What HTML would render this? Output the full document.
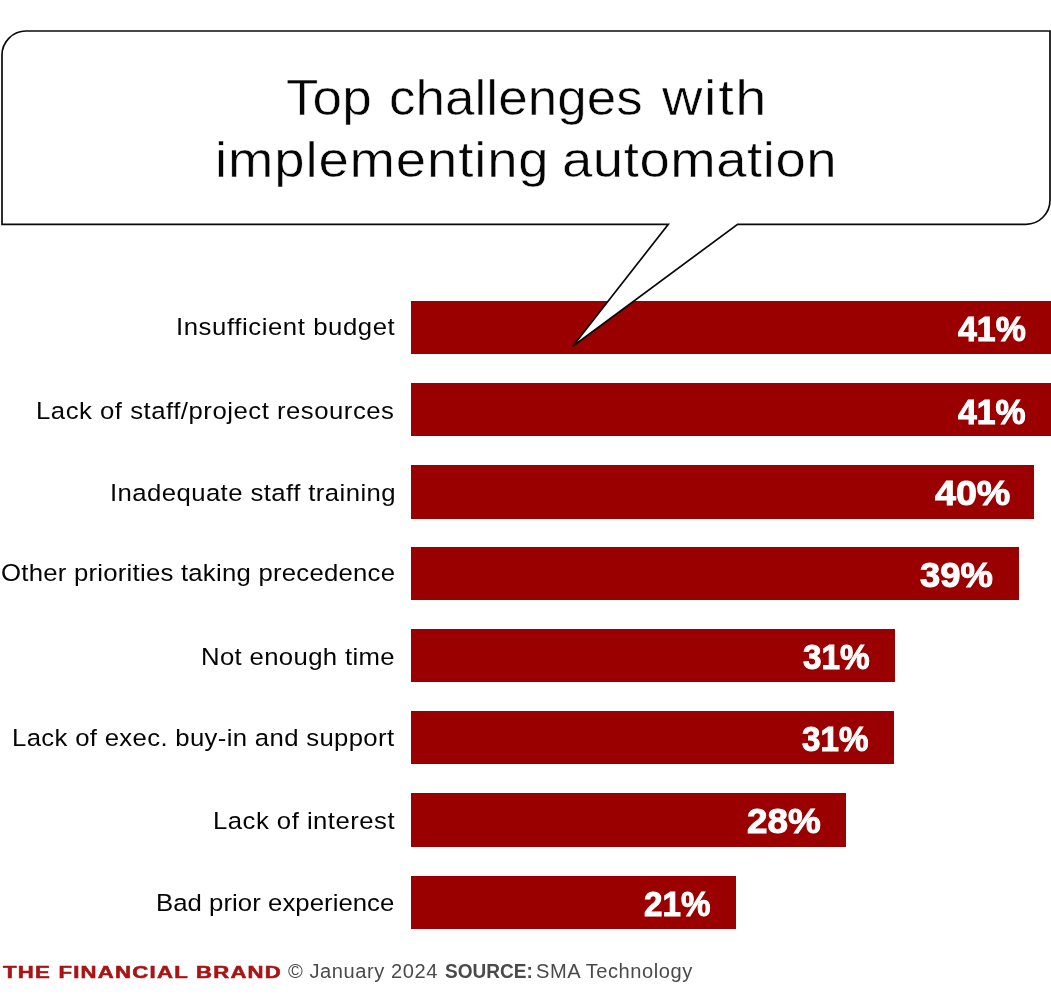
<!DOCTYPE html>
<html lang="en">
<head>
<meta charset="utf-8">
<title>Top challenges with implementing automation</title>
<style>
html,body{margin:0;padding:0;background:#fff;}
body{width:1051px;height:1000px;position:relative;overflow:hidden;font-family:"Liberation Sans",Arial,sans-serif;color:#050505;}
.bar{position:absolute;left:411.4px;background:#9a0000;}
h1{margin:0;font-weight:normal;font-size:inherit;}
.t{position:absolute;display:block;white-space:nowrap;transform-origin:0 0;}
#bubble{position:absolute;left:0;top:0;}
</style>
</head>
<body>

<div class="bar" id="bar0" style="top:301.2px;height:53.25px;width:639.6px"></div>
<div class="bar" id="bar1" style="top:383.35px;height:53.1px;width:639.6px"></div>
<div class="bar" id="bar2" style="top:464.9px;height:53.7px;width:622.9px"></div>
<div class="bar" id="bar3" style="top:547.2px;height:53px;width:607.4px"></div>
<div class="bar" id="bar4" style="top:629.25px;height:53.2px;width:483.8px"></div>
<div class="bar" id="bar5" style="top:711.25px;height:53.2px;width:482.6px"></div>
<div class="bar" id="bar6" style="top:793.45px;height:53.15px;width:434.4px"></div>
<div class="bar" id="bar7" style="top:875.55px;height:53.15px;width:324.6px"></div>

<svg id="bubble" width="1051" height="1000" viewBox="0 0 1051 1000">
  <path d="M26 31 H1050 V200.3 A24 24 0 0 1 1026 224.3 H737.6 L572.8 346.2 L668.3 224.3 H2 V55 A24 24 0 0 1 26 31 Z" fill="#fff" stroke="#0a0a0a" stroke-width="1.7" stroke-linejoin="miter" stroke-miterlimit="4"/>
</svg>

<h1>
<span class="t" id="t1a" style="left:285.64px;top:68px;font-size:50px;line-height:60px;transform:scaleX(1.0600);letter-spacing:0.092px;-webkit-text-stroke:0.5px #fff;">Top</span>
<span class="t" id="t1b" style="left:389.45px;top:68px;font-size:50px;line-height:60px;transform:scaleX(1.0600);letter-spacing:0.028px;-webkit-text-stroke:0.5px #fff;">challenges</span>
<span class="t" id="t1c" style="left:662.22px;top:68px;font-size:50px;line-height:60px;transform:scaleX(1.1200);letter-spacing:1.467px;-webkit-text-stroke:0.5px #fff;">with</span>
<span class="t" id="t2a" style="left:215.18px;top:130px;font-size:50px;line-height:60px;transform:scaleX(1.0900);letter-spacing:0.792px;-webkit-text-stroke:0.5px #fff;">implementing</span>
<span class="t" id="t2b" style="left:562.06px;top:130px;font-size:50px;line-height:60px;transform:scaleX(1.0900);letter-spacing:0.506px;-webkit-text-stroke:0.5px #fff;">automation</span>
</h1>

<div class="t" id="l0" style="left:175.66px;top:312.01px;font-size:24.5px;line-height:29px;transform:scaleX(1.0500);letter-spacing:0.548px;">Insufficient budget</div>
<div class="t" id="p0" style="left:957.51px;top:308.01px;font-size:35px;line-height:42px;transform:scaleX(0.9680);color:#fff;font-weight:bold;-webkit-text-stroke:1px #fff;">41%</div>
<div class="t" id="l1" style="left:36.41px;top:396.01px;font-size:24.5px;line-height:29px;transform:scaleX(1.0500);letter-spacing:0.485px;">Lack of staff/project resources</div>
<div class="t" id="p1" style="left:958.01px;top:391.01px;font-size:35px;line-height:42px;transform:scaleX(0.9658);color:#fff;font-weight:bold;-webkit-text-stroke:1px #fff;">41%</div>
<div class="t" id="l2" style="left:110.19px;top:478.01px;font-size:24.5px;line-height:29px;transform:scaleX(1.0500);letter-spacing:0.396px;">Inadequate staff training</div>
<div class="t" id="p2" style="left:935.33px;top:472.01px;font-size:35px;line-height:42px;transform:scaleX(1.0756);color:#fff;font-weight:bold;-webkit-text-stroke:1px #fff;">40%</div>
<div class="t" id="l3" style="left:0.94px;top:558.01px;font-size:24.5px;line-height:29px;transform:scaleX(1.0500);letter-spacing:0.229px;">Other priorities taking precedence</div>
<div class="t" id="p3" style="left:920.07px;top:554.01px;font-size:35px;line-height:42px;transform:scaleX(1.0388);color:#fff;font-weight:bold;-webkit-text-stroke:1px #fff;">39%</div>
<div class="t" id="l4" style="left:200.87px;top:642.01px;font-size:24.5px;line-height:29px;transform:scaleX(1.0500);letter-spacing:0.327px;">Not enough time</div>
<div class="t" id="p4" style="left:802.73px;top:636.01px;font-size:35px;line-height:42px;transform:scaleX(0.9513);color:#fff;font-weight:bold;-webkit-text-stroke:1px #fff;">31%</div>
<div class="t" id="l5" style="left:11.95px;top:723.01px;font-size:24.5px;line-height:29px;transform:scaleX(1.0500);letter-spacing:0.314px;">Lack of exec. buy-in and support</div>
<div class="t" id="p5" style="left:801.84px;top:718.01px;font-size:35px;line-height:42px;transform:scaleX(0.9472);color:#fff;font-weight:bold;-webkit-text-stroke:1px #fff;">31%</div>
<div class="t" id="l6" style="left:212.78px;top:806.01px;font-size:24.5px;line-height:29px;transform:scaleX(1.0500);letter-spacing:0.451px;">Lack of interest</div>
<div class="t" id="p6" style="left:746.7px;top:800.01px;font-size:35px;line-height:42px;transform:scaleX(1.0516);color:#fff;font-weight:bold;-webkit-text-stroke:1px #fff;">28%</div>
<div class="t" id="l7" style="left:155.92px;top:888.01px;font-size:24.5px;line-height:29px;transform:scaleX(1.0500);letter-spacing:0.048px;">Bad prior experience</div>
<div class="t" id="p7" style="left:643.67px;top:883.01px;font-size:35px;line-height:42px;transform:scaleX(0.9473);color:#fff;font-weight:bold;-webkit-text-stroke:1px #fff;">21%</div>

<footer>
<span class="t" id="brand" style="left:2.95px;top:963px;font-size:15.6px;line-height:19px;transform:scaleX(1.4200);letter-spacing:0.876px;color:#a81414;font-weight:bold;-webkit-text-stroke:0.5px #a81414;">THE FINANCIAL BRAND</span>
<span class="t" id="f1" style="left:288.06px;top:960.01px;font-size:19.5px;line-height:23px;transform:scaleX(1.0300);letter-spacing:0.550px;color:#4a4a4a;">© January 2024</span>
<span class="t" id="f2" style="left:444.79px;top:960.01px;font-size:19.5px;line-height:23px;transform:scaleX(0.9760);color:#4a4a4a;font-weight:bold;">SOURCE:</span>
<span class="t" id="f3" style="left:536.29px;top:960.01px;font-size:19.5px;line-height:23px;transform:scaleX(1.0300);letter-spacing:0.518px;color:#4a4a4a;">SMA Technology</span>
</footer>

</body>
</html>
